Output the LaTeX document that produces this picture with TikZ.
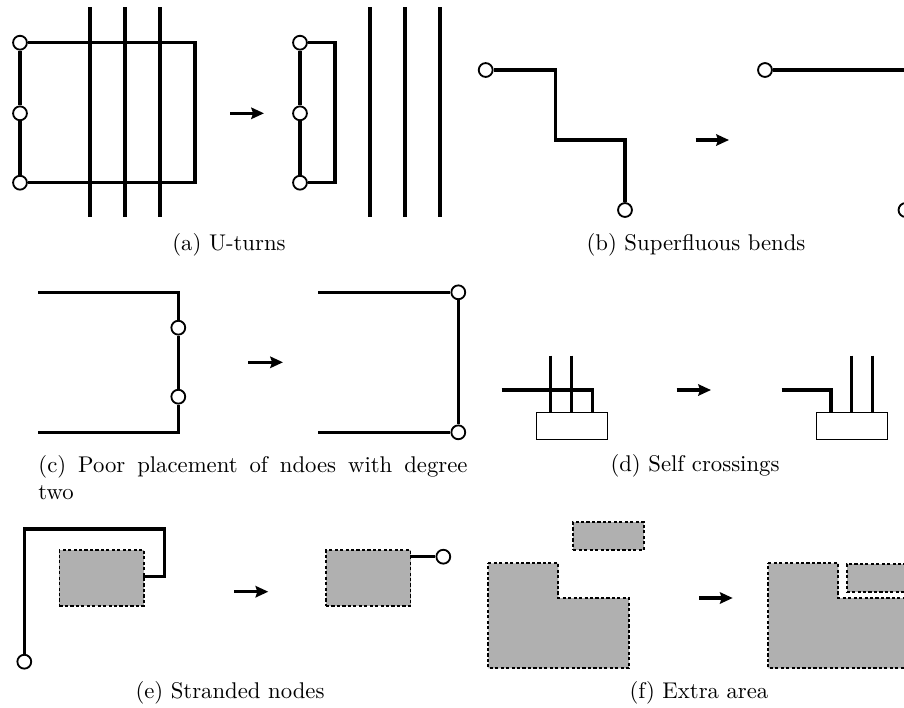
\documentclass[tikz,border=0pt]{standalone}
\usetikzlibrary{arrows.meta}
\definecolor{areagray}{RGB}{176,176,176}
\tikzset{
  wire/.style={line width=1.35pt},
  pin/.style={circle, draw, fill=white, line width=0.8pt, minimum size=6.1pt, inner sep=0pt},
  conv/.style={line width=1.35pt, -{Stealth[length=5.6pt,width=5pt,inset=0.8pt]}},
  portbox/.style={draw, line width=0.5pt},
  area/.style={fill=areagray, draw, line width=0.85pt, dash pattern=on 1.4pt off 1pt},
  capt/.style={anchor=base, inner sep=0pt},
}
\begin{document}
\begin{tikzpicture}[x=0.44pt, y=-0.44pt]
\useasboundingbox (0,0) rectangle (904,708);
\clip (0,0) rectangle (904,708);

% ---------- (a) U-turns ----------
\node[pin] (a1) at (20,42.7) {};
\node[pin] (a2) at (20,113.3) {};
\node[pin] (a3) at (20,182.7) {};
\coordinate (ac1) at (195,42.7);
\coordinate (ac2) at (195,182.7);
\draw[wire] (a1) -- (a2);
\draw[wire] (a2) -- (a3);
\draw[wire] (a1) -- (ac1) -- (ac2) -- (a3);
\foreach \i/\x in {1/90,2/125,3/160}{
  \coordinate (av\i t) at (\x,7);
  \coordinate (av\i b) at (\x,217);
  \draw[wire] (av\i t) -- (av\i b);
}
\coordinate (aar1) at (230,113.3);
\coordinate (aar2) at (264,113.3);
\draw[conv] (aar1) -- (aar2);
\node[pin] (a4) at (300,42.7) {};
\node[pin] (a5) at (300,113.3) {};
\node[pin] (a6) at (300,182.7) {};
\coordinate (ac3) at (335,42.7);
\coordinate (ac4) at (335,182.7);
\draw[wire] (a4) -- (a5);
\draw[wire] (a5) -- (a6);
\draw[wire] (a4) -- (ac3) -- (ac4) -- (a6);
\foreach \i/\x in {4/370,5/405,6/440}{
  \coordinate (av\i t) at (\x,7);
  \coordinate (av\i b) at (\x,217);
  \draw[wire] (av\i t) -- (av\i b);
}
\node[capt] (capa) at (229,250) {(a) U-turns};

% ---------- (b) Superfluous bends ----------
\node[pin] (b1) at (485.7,70) {};
\node[pin] (b2) at (625,210) {};
\coordinate (bc1) at (555.7,70);
\coordinate (bc2) at (555.7,140);
\coordinate (bc3) at (625,140);
\draw[wire] (b1) -- (bc1) -- (bc2) -- (bc3) -- (b2);
\coordinate (bar1) at (695.7,140);
\coordinate (bar2) at (729,140);
\draw[conv] (bar1) -- (bar2);
\node[pin] (b3) at (765,70) {};
\node[pin] (b4) at (905.5,210) {};
\coordinate (bc4) at (905.5,70);
\draw[wire] (b3) -- (bc4) -- (b4);
\node[capt] (capb) at (696,250) {(b) Superfluous bends};

% ---------- (c) degree-two nodes ----------
\coordinate (ct1) at (38.3,292.3);
\coordinate (cc1) at (178.3,292.3);
\coordinate (cc2) at (178.3,432.3);
\coordinate (cb1) at (38.3,432.3);
\node[pin] (c1) at (178.3,327.7) {};
\node[pin] (c2) at (178.3,396.7) {};
\draw[wire] (ct1) -- (cc1) -- (c1);
\draw[wire] (c1) -- (c2);
\draw[wire] (c2) -- (cc2) -- (cb1);
\coordinate (car1) at (248,362.3);
\coordinate (car2) at (283,362.3);
\draw[conv] (car1) -- (car2);
\coordinate (ct2) at (318.3,292.3);
\coordinate (cb2) at (318.3,432.3);
\node[pin] (c3) at (458.3,292.3) {};
\node[pin] (c4) at (458.3,432.3) {};
\draw[wire] (ct2) -- (c3);
\draw[wire] (c3) -- (c4);
\draw[wire] (cb2) -- (c4);
\node[anchor=north west, inner sep=0pt, text width=188.8pt, align=justify] (capc) at (38,455)
  {(c) Poor placement of ndoes with degree\linebreak two};

% ---------- (d) Self crossings ----------
\node[portbox, minimum width=31.1pt, minimum height=12.1pt, inner sep=0pt, anchor=north west] (d1) at (536,411.7) {};
\coordinate (dl1) at (501.7,390);
\coordinate (dc1) at (592.7,390);
\coordinate (dc2) at (592.7,411.7);
\draw[wire] (dl1) -- (dc1) -- (dc2);
\foreach \i/\x in {1/550.7,2/571.7}{
  \coordinate (dv\i t) at (\x,355.7);
  \coordinate (dv\i b) at (\x,411.7);
  \draw[wire] (dv\i t) -- (dv\i b);
}
\coordinate (dar1) at (676.7,390);
\coordinate (dar2) at (711,390);
\draw[conv] (dar1) -- (dar2);
\node[portbox, minimum width=31.1pt, minimum height=12.1pt, inner sep=0pt, anchor=north west] (d2) at (816,411.7) {};
\coordinate (dl2) at (781.7,390);
\coordinate (dc3) at (831,390);
\coordinate (dc4) at (831,411.7);
\draw[wire] (dl2) -- (dc3) -- (dc4);
\foreach \i/\x in {3/851.7,4/872.7}{
  \coordinate (dv\i t) at (\x,355.7);
  \coordinate (dv\i b) at (\x,411.7);
  \draw[wire] (dv\i t) -- (dv\i b);
}
\node[capt] (capd) at (695,471) {(d) Self crossings};

% ---------- (e) Stranded nodes ----------
\node[area, minimum width=37.2pt, minimum height=24.4pt, inner sep=0pt, anchor=north west] (e1) at (58.5,549.3) {};
\node[pin] (ep1) at (24.3,661.7) {};
\coordinate (ec1) at (24.3,529);
\coordinate (ec2) at (164.3,529);
\coordinate (ec3) at (164.3,576.7);
\coordinate (ec4) at (143,576.7);
\draw[wire] (ep1) -- (ec1) -- (ec2) -- (ec3) -- (ec4);
\coordinate (ear1) at (234.3,591.7);
\coordinate (ear2) at (268.3,591.7);
\draw[conv] (ear1) -- (ear2);
\node[area, minimum width=37.2pt, minimum height=24.4pt, inner sep=0pt, anchor=north west] (e2) at (325,549.3) {};
\node[pin] (ep2) at (443.3,556.7) {};
\coordinate (ec5) at (410,556.7);
\draw[wire] (ec5) -- (ep2);
\node[capt] (cape) at (230,698) {(e) Stranded nodes};

% ---------- (f) Extra area ----------
\node[area, minimum width=31pt, minimum height=12.4pt, inner sep=0pt, anchor=north west] (f1) at (572.3,521) {};
\draw[area] (488.3,563.3) -- (558.3,563.3) -- (558.3,598) -- (629,598) -- (629,668.3) -- (488.3,668.3) -- cycle;
\coordinate (far1) at (699,598);
\coordinate (far2) at (732.7,598);
\draw[conv] (far1) -- (far2);
\draw[area] (768.3,563.3) -- (838.3,563.3) -- (838.3,598) -- (909,598) -- (909,668.3) -- (768.3,668.3) -- cycle;
\node[area, minimum width=31pt, minimum height=12.4pt, inner sep=0pt, anchor=north west] (f2) at (845.7,563.3) {};
\node[capt] (capf) at (699,698) {(f) Extra area};
\end{tikzpicture}
\end{document}
